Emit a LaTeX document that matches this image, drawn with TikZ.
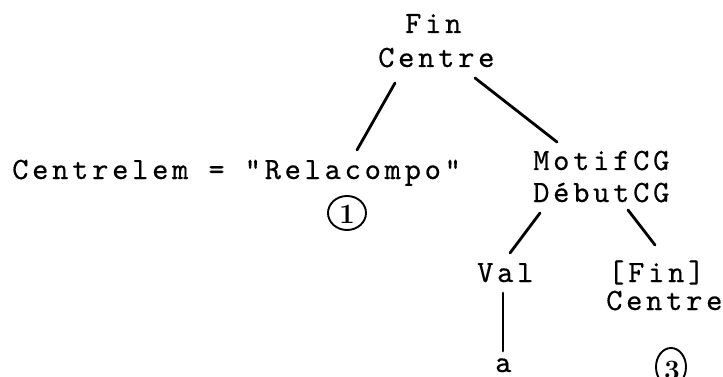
\documentclass[tikz,border=0pt]{standalone}
\usepackage{fontspec}
\newfontfamily\tw{lmmono10-regular}[Extension=.otf,LetterSpace=12,FakeBold=0.4]
\begin{document}
\begin{tikzpicture}[x=1pt,y=-1pt,
  lbl/.style={anchor=base west,inner sep=0pt,font=\tw\fontsize{31}{32}\selectfont},
  edge/.style={line width=2.8pt,line cap=round},
  ring/.style={line width=1.9pt},
  num/.style={inner sep=0pt,font=\bfseries\fontsize{28}{28}\selectfont}]
\useasboundingbox (0,0) rectangle (723,377);
\clip (0,0) rectangle (723,377);
\node[lbl] (fin) at (405,33) {Fin};
\node[lbl] (centre) at (378,67) {Centre};
\node[lbl] (celem) at (12,179) {Centrelem = "Relacompo"};
\node[lbl] (motif) at (533,170) {MotifCG};
\node[lbl] (debut) at (533,202) {DébutCG};
\node[lbl] (val) at (477,282) {Val};
\node[lbl] (finb) at (608,282) {[Fin]};
\node[lbl] (centreb) at (606,310) {Centre};
\node[lbl] (a) at (495,372) {a};
\draw[ring] (347,213) ellipse [x radius=19,y radius=17];
\node[num] (n1) at (347,214) {1};
\draw[ring] (671,367) ellipse [x radius=15,y radius=19];
\node[num] (n3) at (672,370) {3};
\draw[edge] ([shift={(17,16)}]centre.base west) -- ([shift={(345,-29)}]celem.base west);
\draw[edge] ([shift={(97,11)}]centre.base west) -- ([shift={(24,-28)}]motif.base west);
\draw[edge] ([shift={(7,11)}]debut.base west) -- ([shift={(33,-29)}]val.base west);
\draw[edge] ([shift={(95,8)}]debut.base west) -- ([shift={(47,-37)}]finb.base west);
\draw[edge] ([shift={(26,11)}]val.base west) -- ([shift={(8,-21)}]a.base west);
\end{tikzpicture}
\end{document}
